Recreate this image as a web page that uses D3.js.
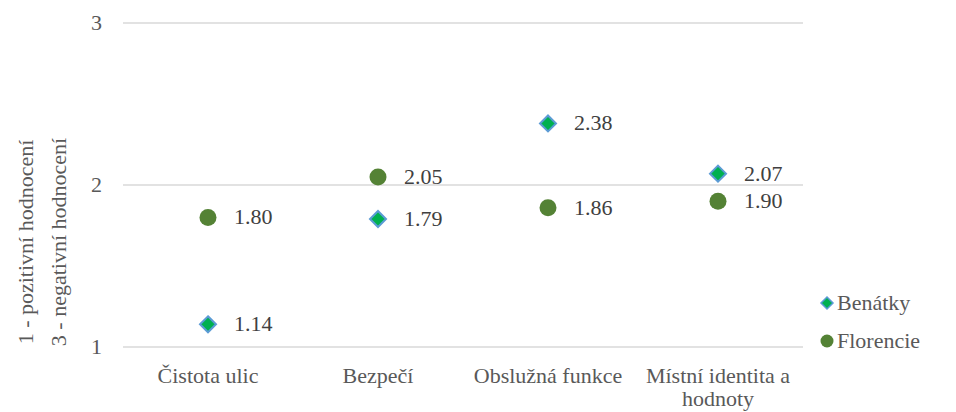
<!DOCTYPE html>
<html><head><meta charset="utf-8">
<script src="https://cdn.jsdelivr.net/npm/d3@7"></script>
<style>body{margin:0;background:#fff}</style>
</head><body><svg id="c" width="956" height="412"></svg>
<script>
const categories = ["Čistota ulic", "Bezpečí", "Obslužná funkce", "Místní identita a hodnoty"];
const benatky = [1.14, 1.79, 2.38, 2.07];
const florencie = [1.80, 2.05, 1.86, 1.90];
const yTicks = [1, 2, 3];
const seriesNames = ["Benátky", "Florencie"];

const TXT = "#595959";
const svg = d3.select("#c");
const x = d3.scaleBand().domain(categories).range([123, 803]);
const y = d3.scaleLinear().domain([1, 3]).range([347, 23]);
const st = sel => sel.attr("font-size", 22)
  .style("font-family", "'Liberation Serif', 'Times New Roman', serif").attr("fill", TXT);

svg.append("g").selectAll("line").data(yTicks).join("line")
  .attr("x1", 123).attr("x2", 803)
  .attr("y1", d => y(d)).attr("y2", d => y(d))
  .attr("stroke", "#d9d9d9").attr("stroke-width", 1.3);

st(svg.append("g").selectAll("text").data(yTicks).join("text")
  .attr("x", 102).attr("y", d => y(d) + 7)
  .attr("text-anchor", "end").text(d => d));

const yt = st(svg.append("text").attr("transform", "translate(0,242) rotate(-90)")
  .attr("text-anchor", "middle"));
yt.append("tspan").attr("x", 0).attr("y", 33).text("1 - pozitivní hodnocení");
yt.append("tspan").attr("x", 0).attr("y", 66).text("3 - negativní hodnocení");

const cxOf = d => x(d) + x.bandwidth() / 2;

const xl = st(svg.append("g").selectAll("text").data(categories).join("text")
  .attr("text-anchor", "middle"));
xl.each(function(d) {
  const t = d3.select(this);
  const lines = d === "Místní identita a hodnoty" ? ["Místní identita a", "hodnoty"] : [d];
  lines.forEach((l, i) => t.append("tspan").attr("x", cxOf(d)).attr("y", 383 + i * 23).text(l));
});

svg.append("g").selectAll("circle").data(florencie).join("circle")
  .attr("cx", (d, i) => cxOf(categories[i])).attr("cy", d => y(d))
  .attr("r", 8.5).attr("fill", "#548235");

const diamond = "M0,-8L8,0L0,8L-8,0Z";
svg.append("g").selectAll("path").data(benatky).join("path")
  .attr("transform", (d, i) => `translate(${cxOf(categories[i])},${y(d)})`)
  .attr("d", diamond).attr("fill", "#00B050").attr("stroke", "#5B9BD5").attr("stroke-width", 2);

const lab = arr => st(svg.append("g").selectAll("text").data(arr).join("text")
  .attr("x", (d, i) => cxOf(categories[i]) + 26).attr("y", d => y(d) + 7)
  .text(d => d.toFixed(2))).attr("fill", "#404040");
lab(benatky); lab(florencie);

const lg = svg.append("g");
lg.append("path").attr("transform", "translate(827,303)").attr("d", "M0,-6L6,0L0,6L-6,0Z")
  .attr("fill", "#00B050").attr("stroke", "#5B9BD5").attr("stroke-width", 1.5);
lg.append("circle").attr("cx", 827).attr("cy", 341).attr("r", 6.5).attr("fill", "#548235");
st(lg.selectAll("text").data(seriesNames).join("text")
  .attr("x", 837).attr("y", (d, i) => 303 + i * 38 + 7).text(d => d));
</script></body></html>
